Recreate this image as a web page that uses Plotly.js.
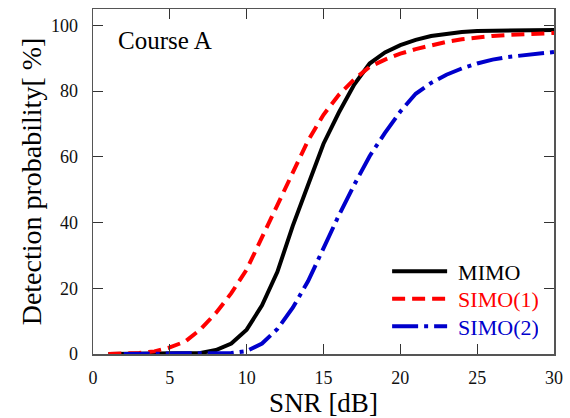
<!DOCTYPE html>
<html>
<head>
<meta charset="utf-8">
<script src="https://cdn.plot.ly/plotly-3.0.1.min.js"></script>
<style>html,body{margin:0;padding:0;background:#fff;}#chart{width:570px;height:418px;}</style>
</head>
<body>
<div id="chart"></div>
<script>
// SNR [dB]
const snrMimo = [1,2,3,4,5,6,7,8,9,10,11,12,13,14,15,16,17,18,19,20,21,22,23,24,25,26,27,28,29,30];
const mimo = [0,0,0,0,0,0.1,0.3,1.2,3.2,7.4,14.8,25,39,51.5,64,73.5,82,88.4,91.8,94,95.6,96.8,97.5,98,98.3,98.4,98.5,98.5,98.6,98.6];
const snrSimo1 = [1,2,3,4,5,6,7,8,9,10,11,12,13,14,15,16,17,18,19,20,21,22,23,24,25,26,27,28,29,30];
const simo1 = [0,0.1,0.3,0.8,2,3.8,7.5,12.5,18.5,25.7,35.6,45.3,55.4,65,72.8,78.9,83.6,87.4,89.6,91.4,92.8,94,95,95.8,96.4,96.8,97.1,97.4,97.6,97.7];
const snrSimo2 = [2,3,4,5,6,7,8,9,10,11,12,13,14,15,16,17,18,19,20,21,22,23,24,25,26,27,28,29,30];
const simo2 = [0,0,0,0,0,0,0.1,0.3,0.9,3.2,7.6,14.1,22.2,32.5,42.2,51.5,60.2,67.3,73.8,79.2,82.5,85,86.9,88.4,89.6,90.4,91,91.6,91.9];
const seriesNames = ["MIMO","SIMO(1)","SIMO(2)"];
const seriesColors = ["#000000","#ff0000","#0000cc"];
const xTicks = [0,5,10,15,20,25,30];
const yTicks = [0,20,40,60,80,100];

const font = "Liberation Serif";
const traces = [
  {x: snrMimo, y: mimo, name: seriesNames[0], mode: "lines", line: {color: seriesColors[0], width: 4}},
  {x: snrSimo1, y: simo1, name: seriesNames[1], mode: "lines", line: {color: seriesColors[1], width: 4, dash: "13px,7px"}},
  {x: snrSimo2, y: simo2, name: seriesNames[2], mode: "lines", line: {color: seriesColors[2], width: 4, dash: "26px,6px,4px,6px"}}
];
const axisCommon = {
  showgrid: false, zeroline: false, showline: true, mirror: "ticks",
  linecolor: "#555", linewidth: 1.5, ticks: "inside", ticklen: 10, tickwidth: 1.2, tickcolor: "#333",
  tickfont: {family: font, size: 18, color: "#111"}
};
const layout = {
  width: 570, height: 418,
  margin: {l: 93, r: 16, t: 9, b: 64},
  paper_bgcolor: "#fff", plot_bgcolor: "#fff",
  font: {family: font, color: "#000"},
  xaxis: Object.assign({}, axisCommon, {
    range: [0, 30], tickvals: xTicks, ticktext: xTicks.map(String), ticklabelstandoff: 7,
    title: {text: "SNR [dB]", font: {family: font, size: 27, color: "#000"}, standoff: 2}
  }),
  yaxis: Object.assign({}, axisCommon, {
    range: [0, 105], tickvals: yTicks, ticktext: yTicks.map(String), ticklabelstandoff: 10,
    title: {text: "Detection probability[ %]", font: {family: font, size: 28, color: "#000"}, standoff: 1}
  }),
  showlegend: true,
  legend: {
    x: 0.638, y: 0.30, xanchor: "left", yanchor: "top",
    font: {family: font, size: 22, color: "#000"},
    bgcolor: "rgba(0,0,0,0)", borderwidth: 0, itemwidth: 55, tracegroupgap: 0
  },
  annotations: [{
    x: 1.5, y: 95.3, xref: "x", yref: "y", xanchor: "left", yanchor: "middle",
    text: "Course A", showarrow: false, font: {family: font, size: 25, color: "#000"}
  }]
};
Plotly.newPlot("chart", traces, layout, {displayModeBar: false, staticPlot: true}).then(function(gd){
  const items = gd.querySelectorAll(".legend .traces");
  const pitch = 27.5;
  let y0 = null;
  items.forEach(function(it, i){
    const t = it.querySelector(".legendtext");
    if (t) {
      t.style.fill = seriesColors[i];
      const xv = parseFloat(t.getAttribute("x")) || 0;
      t.setAttribute("x", xv + 6);
    }
    const tr = it.getAttribute("transform") || "";
    const m = tr.match(/translate\(\s*([-\d.]+)[ ,]+([-\d.]+)\s*\)/);
    if (m) {
      const tx = parseFloat(m[1]), ty = parseFloat(m[2]);
      if (y0 === null) y0 = ty;
      it.setAttribute("transform", "translate(" + tx + "," + (y0 + i * pitch) + ")");
    }
  });
});
</script>
</body>
</html>
